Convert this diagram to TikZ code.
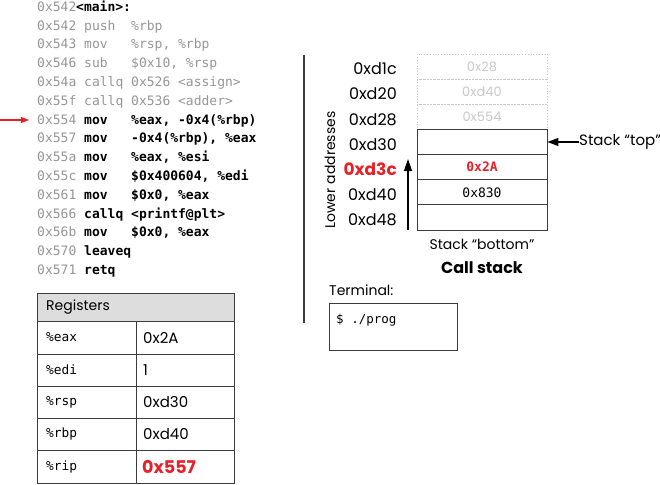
\documentclass[tikz,border=0pt]{standalone}
\usepackage{fontspec}
\setmainfont{Poppins}
\setmonofont{DejaVu Sans Mono}
\usetikzlibrary{arrows.meta}
\definecolor{myred}{RGB}{232,32,40}
\definecolor{codegray}{RGB}{150,150,150}
\definecolor{ghost}{RGB}{200,200,200}
\definecolor{hdr}{RGB}{221,221,221}
\definecolor{linegray}{RGB}{60,60,60}
\begin{document}
\begin{tikzpicture}[x=1pt,y=-1pt,
  code/.style={anchor=base west,inner sep=0pt,font=\ttfamily\fontsize{13}{15}\selectfont},
  cg/.style={code,text=codegray},
  cb/.style={code,font=\ttfamily\bfseries\fontsize{13}{15}\selectfont,text=black},
  sans/.style={inner sep=0pt,font=\fontsize{14}{16}\selectfont},
  addr/.style={anchor=east,inner sep=0pt,font=\fontsize{16}{18}\selectfont},
  cell/.style={draw=linegray,line width=0.9pt,minimum width=130pt,minimum height=25.14pt,inner sep=0pt},
  ghostcell/.style={draw=ghost,dotted,line width=0.8pt,minimum width=130pt,minimum height=25.14pt,inner sep=0pt,text=ghost,font=\fontsize{13}{15}\selectfont},
  grid/.style={draw=linegray,line width=0.9pt},
  monoval/.style={inner sep=0pt,font=\ttfamily\fontsize{12.8}{15}\selectfont},
  tval/.style={inner sep=0pt,anchor=west,font=\fontsize{15}{17}\selectfont},
]
\useasboundingbox (0,0) rectangle (660,484);

% ---------- code listing ----------
\node[cg] (a0) at (37,{7+4.3}) {0x542};
\node[cb] (m0) at (76,{7+4.3}) {<main>:};

\node[cg] (a1) at (37,{7+18.8*1+4.3}) {0x542};
\node[cg] (m1) at (84,{7+18.8*1+4.3}) {push};
\node[cg] (o1) at (131,{7+18.8*1+4.3}) {\%rbp};

\node[cg] (a2) at (37,{7+18.8*2+4.3}) {0x543};
\node[cg] (m2) at (84,{7+18.8*2+4.3}) {mov};
\node[cg] (o2) at (131,{7+18.8*2+4.3}) {\%rsp, \%rbp};

\node[cg] (a3) at (37,{7+18.8*3+4.3}) {0x546};
\node[cg] (m3) at (84,{7+18.8*3+4.3}) {sub};
\node[cg] (o3) at (131,{7+18.8*3+4.3}) {\$0x10, \%rsp};

\node[cg] (a4) at (37,{7+18.8*4+4.3}) {0x54a};
\node[cg] (m4) at (84,{7+18.8*4+4.3}) {callq};
\node[cg] (o4) at (131,{7+18.8*4+4.3}) {0x526 <assign>};

\node[cg] (a5) at (37,{7+18.8*5+4.3}) {0x55f};
\node[cg] (m5) at (84,{7+18.8*5+4.3}) {callq};
\node[cg] (o5) at (131,{7+18.8*5+4.3}) {0x536 <adder>};

\node[cg] (a6) at (37,{7+18.8*6+4.3}) {0x554};
\node[cb] (m6) at (84,{7+18.8*6+4.3}) {mov};
\node[cb] (o6) at (131,{7+18.8*6+4.3}) {\%eax, -0x4(\%rbp)};

\node[cg] (a7) at (37,{7+18.8*7+4.3}) {0x557};
\node[cb] (m7) at (84,{7+18.8*7+4.3}) {mov};
\node[cb] (o7) at (131,{7+18.8*7+4.3}) {-0x4(\%rbp), \%eax};

\node[cg] (a8) at (37,{7+18.8*8+4.3}) {0x55a};
\node[cb] (m8) at (84,{7+18.8*8+4.3}) {mov};
\node[cb] (o8) at (131,{7+18.8*8+4.3}) {\%eax, \%esi};

\node[cg] (a9) at (37,{7+18.8*9+4.3}) {0x55c};
\node[cb] (m9) at (84,{7+18.8*9+4.3}) {mov};
\node[cb] (o9) at (131,{7+18.8*9+4.3}) {\$0x400604, \%edi};

\node[cg] (a10) at (37,{7+18.8*10+4.3}) {0x561};
\node[cb] (m10) at (84,{7+18.8*10+4.3}) {mov};
\node[cb] (o10) at (131,{7+18.8*10+4.3}) {\$0x0, \%eax};

\node[cg] (a11) at (37,{7+18.8*11+4.3}) {0x566};
\node[cb] (m11) at (84,{7+18.8*11+4.3}) {callq};
\node[cb] (o11) at (131,{7+18.8*11+4.3}) {<printf@plt>};

\node[cg] (a12) at (37,{7+18.8*12+4.3}) {0x56b};
\node[cb] (m12) at (84,{7+18.8*12+4.3}) {mov};
\node[cb] (o12) at (131,{7+18.8*12+4.3}) {\$0x0, \%eax};

\node[cg] (a13) at (37,{7+18.8*13+4.3}) {0x570};
\node[cb] (m13) at (84,{7+18.8*13+4.3}) {leaveq};

\node[cg] (a14) at (37,{7+18.8*14+4.3}) {0x571};
\node[cb] (m14) at (84,{7+18.8*14+4.3}) {retq};

\coordinate (pcstart) at (0,120);
\coordinate (pcend) at (29,120);
\draw[myred,line width=1.3pt,-{Triangle[length=8pt,width=6pt]}] (pcstart) -- (pcend);

% ---------- registers table ----------
\fill[hdr] (37,293) rectangle (234,321);
\draw[grid] (37,293) rectangle (234,483);
\foreach \yy in {321,354,386,418,450} \draw[grid] (37,\yy) -- (234,\yy);
\draw[grid] (136,321) -- (136,483);
\node[sans,anchor=west] (reghdr) at (46,307) {Registers};
\node[monoval,anchor=west] (r1) at (46,337.5) {\%eax};
\node[tval] (v1) at (143,337.5) {0x2A};
\node[monoval,anchor=west] (r2) at (46,370) {\%edi};
\node[tval] (v2) at (143,370) {1};
\node[monoval,anchor=west] (r3) at (46,402) {\%rsp};
\node[tval] (v3) at (143,402) {0xd30};
\node[monoval,anchor=west] (r4) at (46,434) {\%rbp};
\node[tval] (v4) at (143,434) {0xd40};
\node[monoval,anchor=west] (r5) at (46,466.5) {\%rip};
\node[tval,text=myred,font=\bfseries\fontsize{17.5}{19}\selectfont] (v5) at (142,466.5) {0x557};

% ---------- divider ----------
\draw[linegray,line width=1.3pt] (304,55) -- (304,323);

% ---------- call stack ----------
\node[ghostcell] (s0) at (482,66.6) {0x28};
\node[ghostcell] (s1) at (482,91.7) {0xd40};
\node[ghostcell] (s2) at (482,116.9) {0x554};
\node[cell] (s3) at (482,142.0) {};
\node[cell,text=myred,font=\ttfamily\bfseries\fontsize{13}{15}\selectfont] (s4) at (482,167.1) {0x2A};
\node[cell,font=\ttfamily\fontsize{13}{15}\selectfont] (s5) at (482,192.3) {0x830};
\node[cell] (s6) at (482,217.4) {};

\node[addr] (l0) at (397,69) {0xd1c};
\node[addr] (l1) at (397,94) {0xd20};
\node[addr] (l2) at (397,119.5) {0xd28};
\node[addr] (l3) at (397,144.5) {0xd30};
\node[addr,text=myred,font=\bfseries\fontsize{17}{19}\selectfont] (l4) at (397,169.5) {0xd3c};
\node[addr] (l5) at (397,194.5) {0xd40};
\node[addr] (l6) at (397,219.5) {0xd48};

\node[sans,rotate=90] (lower) at (330,170) {Lower addresses};
\coordinate (upbot) at (408,230);
\coordinate (uptop) at (408,159);
\draw[line width=1.3pt,-{Triangle[length=12pt,width=8pt]}] (upbot) -- (uptop);

\node[sans,anchor=west,font=\fontsize{15}{17}\selectfont] (toplbl) at (579,142) {Stack “top”};
\draw[line width=1.3pt,-{Triangle[length=11pt,width=8pt]}] (toplbl.west) -- (s3.east);

\node[sans] (botlbl) at (482,244) {Stack “bottom”};
\node[sans,font=\bfseries\fontsize{16}{18}\selectfont] (cslbl) at (482,268) {Call stack};

% ---------- terminal ----------
\node[sans,anchor=west] (termlbl) at (329,290) {Terminal:};
\node[draw=linegray,line width=0.9pt,minimum width=128pt,minimum height=47pt,inner sep=0pt,anchor=north west] (term) at (329,303) {};
\node[monoval,anchor=west,font=\ttfamily\fontsize{12.5}{15}\selectfont] (prog) at (336,320) {\$ ./prog};
\end{tikzpicture}
\end{document}
